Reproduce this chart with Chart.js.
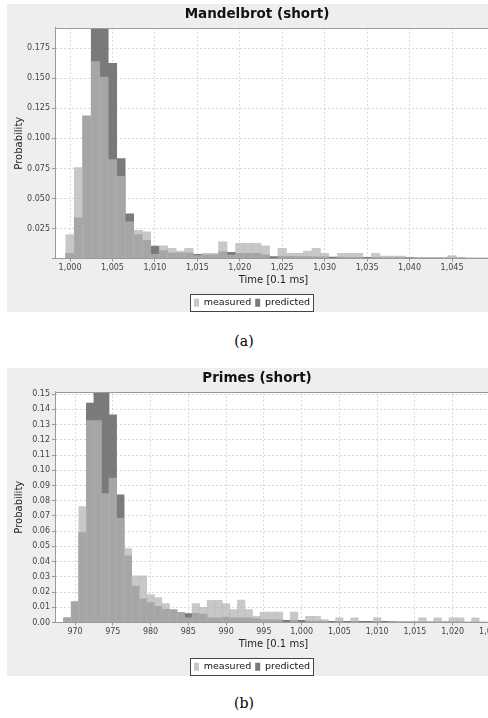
<!DOCTYPE html>
<html>
<head>
<meta charset="utf-8">
<script src="https://cdn.jsdelivr.net/npm/chart.js@4/dist/chart.umd.min.js"></script>
<style>
  html, body { margin: 0; padding: 0; background: #fff; width: 488px; height: 718px; overflow: hidden; }
  .panel { position: absolute; left: 7px; width: 500px; height: 308px; }
  .cap { position: absolute; left: 0; width: 488px; text-align: center; font-family: "DejaVu Serif", serif; font-size: 14px; color: #000; }
</style>
</head>
<body>
<div class="panel" style="top:4px"><canvas id="chartA" width="500" height="308"></canvas></div>
<div class="panel" style="top:368px"><canvas id="chartB" width="500" height="308"></canvas></div>
<div class="cap" style="top:333px">(a)</div>
<div class="cap" style="top:695px">(b)</div>
<script>
// (a) Mandelbrot (short)
const binsA = [1000, 1001, 1002, 1003, 1004, 1005, 1006, 1007, 1008, 1009,
  1010, 1011, 1012, 1013, 1014, 1015, 1016, 1017, 1018, 1019,
  1020, 1021, 1022, 1023, 1024, 1025, 1026, 1027, 1028, 1029,
  1030, 1031, 1032, 1033, 1034, 1035, 1036, 1037, 1038, 1039,
  1040, 1041, 1042, 1043, 1044, 1045, 1046, 1047, 1048, 1049]
const measuredA = [0.0200, 0.0757, 0.1185, 0.1640, 0.1510, 0.0823, 0.0685, 0.0306, 0.0234, 0.0222,
  0.0035, 0.0106, 0.0085, 0.0062, 0.0085, 0.0025, 0.0043, 0.0043, 0.0139, 0.0029,
  0.0126, 0.0126, 0.0126, 0.0106, 0.0000, 0.0085, 0.0043, 0.0043, 0.0062, 0.0085,
  0.0043, 0.0000, 0.0043, 0.0043, 0.0043, 0.0000, 0.0043, 0.0020, 0.0020, 0.0020,
  0.0000, 0.0000, 0.0000, 0.0000, 0.0000, 0.0025, 0.0000, 0.0000, 0.0000, 0.0000]
const predictedA = [0.0043, 0.0339, 0.1185, 0.2100, 0.2000, 0.1625, 0.0831, 0.0372, 0.0200, 0.0151,
  0.0104, 0.0065, 0.0048, 0.0048, 0.0048, 0.0035, 0.0030, 0.0030, 0.0056, 0.0051,
  0.0043, 0.0043, 0.0043, 0.0030, 0.0015, 0.0020, 0.0018, 0.0016, 0.0015, 0.0014,
  0.0013, 0.0012, 0.0011, 0.0010, 0.0010, 0.0009, 0.0009, 0.0008, 0.0008, 0.0007,
  0.0007, 0.0006, 0.0006, 0.0006, 0.0005, 0.0005, 0.0005, 0.0004, 0.0004, 0.0004]

// (b) Primes (short)
const binsB = [969, 970, 971, 972, 973, 974, 975, 976, 977, 978,
  979, 980, 981, 982, 983, 984, 985, 986, 987, 988,
  989, 990, 991, 992, 993, 994, 995, 996, 997, 998,
  999, 1000, 1001, 1002, 1003, 1004, 1005, 1006, 1007, 1008,
  1009, 1010, 1011, 1012, 1013, 1014, 1015, 1016, 1017, 1018,
  1019, 1020, 1021, 1022, 1023, 1024]
const measuredB = [0.0030, 0.0135, 0.0762, 0.1327, 0.1327, 0.0847, 0.0948, 0.0685, 0.0486, 0.0306,
  0.0306, 0.0184, 0.0164, 0.0125, 0.0083, 0.0065, 0.0030, 0.0125, 0.0100, 0.0145,
  0.0145, 0.0125, 0.0085, 0.0147, 0.0085, 0.0040, 0.0068, 0.0068, 0.0068, 0.0000,
  0.0068, 0.0000, 0.0041, 0.0041, 0.0020, 0.0000, 0.0030, 0.0000, 0.0030, 0.0000,
  0.0000, 0.0030, 0.0000, 0.0005, 0.0005, 0.0000, 0.0000, 0.0030, 0.0000, 0.0030,
  0.0000, 0.0030, 0.0030, 0.0000, 0.0030, 0.0000]
const predictedB = [0.0030, 0.0135, 0.0591, 0.1441, 0.1600, 0.1550, 0.1364, 0.0838, 0.0438, 0.0240,
  0.0155, 0.0131, 0.0107, 0.0087, 0.0083, 0.0065, 0.0059, 0.0060, 0.0055, 0.0030,
  0.0030, 0.0035, 0.0030, 0.0030, 0.0030, 0.0025, 0.0020, 0.0020, 0.0018, 0.0015,
  0.0015, 0.0015, 0.0010, 0.0010, 0.0010, 0.0008, 0.0008, 0.0008, 0.0007, 0.0007,
  0.0007, 0.0007, 0.0008, 0.0006, 0.0005, 0.0005, 0.0005, 0.0004, 0.0004, 0.0004,
  0.0004, 0.0004, 0.0004, 0.0003, 0.0003, 0.0003]

const seriesNames = ['measured', 'predicted']
const xTitle = 'Time [0.1 ms]'
const yTitle = 'Probability'

const FONT = '"DejaVu Sans", sans-serif'

// panel background, white plot area, legend frame, plot outline
const framePlugin = {
  id: 'frame',
  afterLayout(chart) {
    // legend sits a little left of centre in the original
    chart.legend.left -= 5
    chart.legend.right -= 5
  },
  beforeDraw(chart) {
    const ctx = chart.ctx, a = chart.chartArea
    ctx.save()
    ctx.fillStyle = '#eeeeee'
    ctx.fillRect(0, 0, chart.width, chart.height)
    ctx.fillStyle = '#ffffff'
    ctx.fillRect(a.left, a.top, a.right - a.left, a.bottom - a.top)
    const hb = chart.legend.legendHitBoxes
    if (hb && hb.length) {
      const last = hb[hb.length - 1]
      const l = Math.round(hb[0].left - 4), r = Math.round(last.left + last.width + 3)
      const t = Math.round(hb[0].top - 4), b = Math.round(hb[0].top + hb[0].height + 4)
      ctx.fillRect(l, t, r - l, b - t)
      ctx.strokeStyle = '#444'
      ctx.lineWidth = 1
      ctx.strokeRect(l + 0.5, t + 0.5, r - l, b - t - 1)
    }
    ctx.restore()
  },
  afterDatasetsDraw(chart) {
    const ctx = chart.ctx, a = chart.chartArea
    ctx.save()
    ctx.strokeStyle = '#9a9a9a'
    ctx.lineWidth = 1
    ctx.strokeRect(Math.round(a.left) + 0.5, Math.round(a.top) + 0.5,
      Math.round(a.right - a.left), Math.round(a.bottom - a.top) - 1)
    ctx.restore()
  }
}

function makeChart(id, title, bins, measured, predicted, xMin, xMax, yMax, yStep, yFmt) {
  const toPts = vals => bins.map((b, i) => ({x: b, y: vals[i]}))
  return new Chart(document.getElementById(id), {
    type: 'bar',
    data: {
      datasets: [
        {
          label: seriesNames[0],
          data: toPts(measured),
          backgroundColor: 'rgba(182,182,182,0.75)',
          borderWidth: 0,
          grouped: false,
          barPercentage: 1,
          categoryPercentage: 1
        },
        {
          label: seriesNames[1],
          data: toPts(predicted),
          backgroundColor: 'rgb(122,122,122)',
          borderWidth: 0,
          grouped: false,
          barPercentage: 1,
          categoryPercentage: 1
        }
      ]
    },
    options: {
      responsive: false,
      animation: false,
      devicePixelRatio: 1,
      layout: {padding: {left: 0, right: 0, top: 0, bottom: 0.5}},
      plugins: {
        title: {
          display: true, text: title, color: '#111',
          font: {family: FONT, size: 13.5, weight: 'bold'},
          padding: {top: 2.7, bottom: 5}
        },
        legend: {
          position: 'bottom',
          maxHeight: 17.5,
          labels: {
            boxWidth: 5, boxHeight: 8, padding: 4, color: '#111',
            font: {family: FONT, size: 9.5}
          }
        },
        tooltip: {enabled: false}
      },
      scales: {
        x: {
          type: 'linear', min: xMin, max: xMax, offset: false,
          afterFit: s => { s.height = 35.5 },
          ticks: {
            stepSize: 5, includeBounds: false, autoSkip: false, maxRotation: 0,
            callback: v => Math.round(v).toLocaleString('en-US'),
            font: {family: FONT, size: 8}, color: '#444', padding: 2
          },
          grid: {color: '#dadada', tickLength: 3, tickColor: '#999', offset: false},
          border: {color: '#9a9a9a', dash: [2, 2]},
          title: {
            display: true, text: xTitle, color: '#222',
            font: {family: FONT, size: 10}, padding: {top: 0, bottom: 8}
          }
        },
        y: {
          min: 0, max: yMax,
          afterFit: s => { s.width = 48 },
          ticks: {
            stepSize: yStep, includeBounds: false,
            callback: yFmt,
            font: {family: FONT, size: 8}, color: '#444', padding: 2
          },
          grid: {color: '#dadada', tickLength: 3, tickColor: '#999'},
          border: {color: '#9a9a9a', dash: [2, 2]},
          title: {
            display: true, text: yTitle, color: '#222',
            font: {family: FONT, size: 10}, padding: {top: 6, bottom: 0}
          }
        },
        yPad: {
          position: 'right', display: true,
          afterFit: s => { s.width = 15 },
          grid: {display: false, drawOnChartArea: false},
          ticks: {display: false},
          border: {display: false}
        }
      }
    },
    plugins: [framePlugin]
  })
}

makeChart('chartA', 'Mandelbrot (short)', binsA, measuredA, predictedA,
  998.23, 1049.71, 0.192, 0.025, v => v === 0 ? '' : v.toFixed(3))
makeChart('chartB', 'Primes (short)', binsB, measuredB, predictedB,
  967.35, 1025.2, 0.1515, 0.01, v => v.toFixed(2))
</script>
</body>
</html>
